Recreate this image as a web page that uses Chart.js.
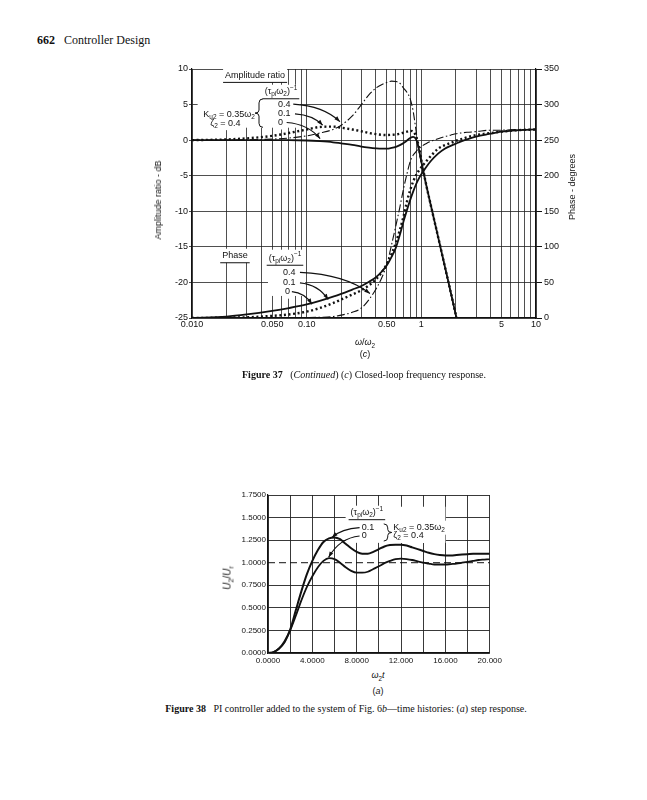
<!DOCTYPE html>
<html>
<head>
<meta charset="utf-8">
<title>Controller Design - Figures 37c and 38a</title>
<script src="https://cdn.jsdelivr.net/npm/chart.js"></script>
<style>
    body { margin: 0; background: #fff; }
    #page { position: relative; width: 647px; height: 800px; overflow: hidden; color: #111; font-family: 'Liberation Serif', serif; }
    .abs { position: absolute; white-space: nowrap; }
    canvas { position: absolute; }
    .axis { font-family: 'Liberation Sans', 'DejaVu Sans', sans-serif; font-size: 9px; }
    .rot { transform: translate(-50%, -50%) rotate(-90deg); }
    .ctr { transform: translate(-50%, -50%); }
    .cap { font-size: 10px; }
    sub { font-size: 70%; }
</style>
</head>
<body>
<div id="page">
    <div class="abs" style="left:37px; top:33px; font-size:12px;"><b>662</b>&nbsp;&nbsp;&nbsp;Controller Design</div>

    <canvas id="freqChart" width="470" height="292" style="left:130px; top:58px;"></canvas>
    <div class="abs axis rot" style="left:158px; top:200px;">Amplitude ratio - dB</div>
    <div class="abs axis rot" style="left:572px; top:187px;">Phase - degrees</div>
    <div class="abs axis ctr" style="left:365px; top:343px;"><i>ω</i>/<i>ω</i><sub>2</sub></div>
    <div class="abs axis ctr" style="left:365px; top:354px;">(<i>c</i>)</div>
    <div class="abs cap ctr" style="left:364px; top:374px;"><b>Figure 37</b>&nbsp;&nbsp;&nbsp;(<i>Continued</i>) (<i>c</i>) Closed-loop frequency response.</div>

    <canvas id="stepChart" width="295" height="186" style="left:210px; top:484px;"></canvas>
    <div class="abs axis rot" style="left:228px; top:578px; font-size:10px;"><i>U</i><sub>2</sub>/<i>U</i><sub>r</sub></div>
    <div class="abs axis ctr" style="left:378px; top:676px;"><i>ω</i><sub>2</sub><i>t</i></div>
    <div class="abs axis ctr" style="left:378px; top:691px;">(<i>a</i>)</div>
    <div class="abs cap ctr" style="left:346px; top:708px;"><b>Figure 38</b>&nbsp;&nbsp;&nbsp;PI controller added to the system of Fig. 6<i>b</i>—time histories: (<i>a</i>) step response.</div>
</div>

<script>
    // ---- Figure 37(c): closed-loop frequency response ----
    const freq = [0.01, 0.02, 0.03, 0.05, 0.07, 0.1, 0.13, 0.17, 0.2, 0.25,
                  0.3, 0.35, 0.4, 0.45, 0.5, 0.55, 0.6, 0.65, 0.7, 0.75,
                  0.8, 0.85, 0.9, 0.95, 1.0, 1.1, 1.2, 1.4, 1.6, 1.8,
                  2.0, 2.2, 2.5, 3, 4, 5, 7, 10];

    // amplitude ratio, dB, for (tau_pi w2)^-1 = 0, 0.1, 0.4
    const ampZero = [0, 0, 0, 0, 0, -0.05, -0.15, -0.3, -0.45, -0.65,
                     -0.9, -1.05, -1.15, -1.2, -1.2, -1.1, -0.95, -0.7, -0.4, -0.05,
                     0.3, 0.45, 0.1, -1.2, -3.0, -6.2, -8.9, -13.6, -17.7, -21.3,
                     -24.6, -27.6, null, null, null, null, null, null];
    const ampTenth = [0, 0.1, 0.25, 0.6, 1.0, 1.5, 1.85, 1.9, 1.75, 1.5,
                      1.25, 1.0, 0.85, 0.75, 0.72, 0.75, 0.8, 0.9, 1.05, 1.2,
                      1.3, 1.2, 0.5, -0.9, -2.8, -6.2, -8.9, -13.6, -17.7, -21.3,
                      -24.6, -27.6, null, null, null, null, null, null];
    const ampFour = [0, 0.02, 0.05, 0.15, 0.3, 0.6, 1.0, 1.5, 2.1, 3.4,
                     5.0, 6.4, 7.3, 7.8, 8.1, 8.3, 8.25, 8.0, 7.3, 6.7,
                     5.8, 4.0, 1.3, -1.3, -3.2, -6.2, -8.9, -13.6, -17.7, -21.3,
                     -24.6, -27.6, null, null, null, null, null, null];

    // phase, degrees
    const phaseZero = [0, 2, 5, 10, 14, 19, 24, 30, 34, 40,
                       45, 51, 57, 65, 74, 86, 99, 117, 136, 152,
                       166, 178, 188, 196, 202, 212, 220, 231, 238, 242,
                       245, 248, 251, 255, 259, 262, 264, 265];
    const phaseTenth = [0, 0.5, 1, 3, 5, 9, 14, 21, 26, 33,
                        39, 46, 54, 64, 76, 90, 106, 124, 143, 164,
                        180, 192, 201, 207, 212, 220, 227, 238, 243, 246,
                        249, 251, 254, 257, 260, 262, 264, 265];
    const phaseFour = [0, 0, 0, 0, 0, 0.5, 1, 2, 4, 8,
                       14, 26, 40, 56, 75, 103, 130, 156, 182, 203,
                       220, 229, 234, 238, 241, 245, 248, 252, 255, 257,
                       259, 260, 261, 262, 264, 264, 265, 265];

    const freqGrid = [0.01, 0.02, 0.03, 0.04, 0.05, 0.06, 0.07, 0.08, 0.09,
                      0.1, 0.2, 0.3, 0.4, 0.5, 0.6, 0.7, 0.8, 0.9,
                      1, 2, 3, 4, 5, 6, 7, 8, 9, 10];
    const freqLabelAt = [0.01, 0.05, 0.1, 0.5, 1, 5, 10];
    const freqLabels = ['0.010', '0.050', '0.10', '0.50', '1', '5', '10'];

    // ---- Figure 38(a): step response ----
    const time = [0, 0.5, 1, 1.5, 2, 2.5, 3, 3.5, 4, 4.5,
                  5, 5.5, 6, 6.5, 7, 7.5, 8, 8.5, 9, 9.5,
                  10, 10.5, 11, 11.5, 12, 12.5, 13, 13.5, 14, 14.5,
                  15, 15.5, 16, 16.5, 17, 17.5, 18, 18.5, 19, 19.5, 20];
    const stepTenth = [0, 0.01, 0.05, 0.13, 0.26, 0.47, 0.68, 0.87, 1.02, 1.14,
                       1.23, 1.27, 1.28, 1.26, 1.21, 1.16, 1.12, 1.10, 1.10, 1.12,
                       1.15, 1.18, 1.195, 1.20, 1.20, 1.19, 1.17, 1.15, 1.13, 1.11,
                       1.095, 1.085, 1.08, 1.08, 1.085, 1.09, 1.095, 1.10, 1.10, 1.10, 1.10];
    const stepZero = [0, 0.01, 0.05, 0.12, 0.25, 0.41, 0.58, 0.73, 0.85, 0.95,
                      1.02, 1.05, 1.04, 1.00, 0.95, 0.91, 0.89, 0.89, 0.90, 0.93,
                      0.96, 0.995, 1.02, 1.04, 1.045, 1.04, 1.03, 1.015, 1.0, 0.99,
                      0.98, 0.98, 0.98, 0.985, 0.99, 1.0, 1.01, 1.02, 1.03, 1.035, 1.04];
    const stepRef = [1, 1];
    const stepRefTime = [0, 20];

    const timeTicks = [0, 4, 8, 12, 16, 20];
    const timeTickLabels = ['0.0000', '4.0000', '8.0000', '12.000', '16.000', '20.000'];
    const respTickLabels = ['0.0000', '0.2500', '0.5000', '0.7500', '1.0000', '1.2500', '1.5000', '1.7500'];

    Chart.defaults.font.family = "'Liberation Sans', 'DejaVu Sans', sans-serif";
    Chart.defaults.color = '#111';

    const INK = '#111';
    const FAMILY = "'Liberation Sans', 'DejaVu Sans', sans-serif";
    const SOLID = { borderColor: INK, borderWidth: 1.8 };
    const DOTTED = { borderColor: INK, borderWidth: 2.4, borderDash: [2, 2.6], borderCapStyle: 'butt' };
    const DASHDOT = { borderColor: INK, borderWidth: 1.1, borderDash: [8, 2.5, 1.5, 2.5] };

    function pts(xs, ys) {
        return xs.map((x, i) => ({ x: x, y: ys[i] }));
    }

    function line(data, style, axis) {
        return Object.assign({
            data: data, yAxisID: axis || 'y', pointRadius: 0,
            cubicInterpolationMode: 'monotone', fill: false
        }, style);
    }

    function at(chart, x, y) {
        return { x: chart.scales.x.getPixelForValue(x), y: chart.scales.y.getPixelForValue(y) };
    }

    // "_{..}" = subscript, "^{..}" = superscript
    function parseRich(str) {
        const out = [];
        const re = /([_^])\{([^}]*)\}|([^_^]+)/g;
        let m;
        while ((m = re.exec(str))) {
            if (m[3]) out.push({ t: m[3], k: 0 });
            else out.push({ t: m[2], k: m[1] === '_' ? -1 : 1 });
        }
        return out;
    }

    function richWidth(ctx, segs, size) {
        let w = 0;
        segs.forEach(s => {
            ctx.font = (s.k ? size * 0.72 : size) + 'px ' + FAMILY;
            w += ctx.measureText(s.t).width;
        });
        return w;
    }

    function richDraw(ctx, segs, x, y, size) {
        ctx.textAlign = 'left';
        segs.forEach(s => {
            ctx.font = (s.k ? size * 0.72 : size) + 'px ' + FAMILY;
            const dy = s.k < 0 ? size * 0.3 : s.k > 0 ? -size * 0.4 : 0;
            ctx.fillText(s.t, x, y + dy);
            x += ctx.measureText(s.t).width;
        });
    }

    function arrow(ctx, a, b) {
        const c = { x: a.x + (b.x - a.x) * 0.65, y: a.y + (b.y - a.y) * 0.1 };
        ctx.beginPath();
        ctx.moveTo(a.x, a.y);
        ctx.quadraticCurveTo(c.x, c.y, b.x, b.y);
        ctx.stroke();
        const ang = Math.atan2(b.y - c.y, b.x - c.x);
        ctx.beginPath();
        ctx.moveTo(b.x, b.y);
        ctx.lineTo(b.x - 6 * Math.cos(ang - 0.35), b.y - 6 * Math.sin(ang - 0.35));
        ctx.lineTo(b.x - 6 * Math.cos(ang + 0.35), b.y - 6 * Math.sin(ang + 0.35));
        ctx.closePath();
        ctx.fill();
    }

    function brace(ctx, x, y0, y1, dir) {
        const m = (y0 + y1) / 2, w = 4 * dir;
        ctx.beginPath();
        ctx.moveTo(x + w, y0);
        ctx.quadraticCurveTo(x, y0, x, y0 + 4);
        ctx.lineTo(x, m - 3);
        ctx.quadraticCurveTo(x, m, x - w, m);
        ctx.quadraticCurveTo(x, m, x, m + 3);
        ctx.lineTo(x, y1 - 4);
        ctx.quadraticCurveTo(x, y1, x + w, y1);
        ctx.stroke();
    }

    // labels, braces and arrows placed in data coordinates
    function makeNotes(spec) {
        function place(ctx, t, p) {
            const segs = parseRich(t.text);
            const w = richWidth(ctx, segs, spec.size);
            const x0 = t.align === 'left' ? p.x : t.align === 'right' ? p.x - w : p.x - w / 2;
            return { segs: segs, w: w, x0: x0 };
        }
        return {
            id: 'notes',
            beforeDatasetsDraw(chart) {
                const ctx = chart.ctx;
                ctx.save();
                ctx.fillStyle = '#fff';
                spec.boxes.forEach(b => {
                    const p = at(chart, b[0], b[1]), q = at(chart, b[2], b[3]);
                    ctx.fillRect(p.x, p.y, q.x - p.x, q.y - p.y);
                });
                spec.texts.forEach(t => {
                    const p = at(chart, t.x, t.y);
                    const r = place(ctx, t, p);
                    ctx.fillRect(r.x0 - 2, p.y - 7, r.w + 4, 14);
                });
                ctx.restore();
            },
            afterDatasetsDraw(chart) {
                const ctx = chart.ctx;
                ctx.save();
                ctx.fillStyle = INK;
                ctx.strokeStyle = INK;
                ctx.lineWidth = 1;
                ctx.textBaseline = 'middle';
                spec.texts.forEach(t => {
                    const p = at(chart, t.x, t.y);
                    const r = place(ctx, t, p);
                    richDraw(ctx, r.segs, r.x0, p.y, spec.size);
                    if (t.underline) {
                        ctx.beginPath();
                        ctx.moveTo(r.x0 - 2, p.y + 7);
                        ctx.lineTo(r.x0 + r.w + 2, p.y + 7);
                        ctx.stroke();
                    }
                });
                spec.braces.forEach(b => {
                    const p = at(chart, b.x, b.y0), q = at(chart, b.x, b.y1);
                    brace(ctx, p.x, p.y, q.y, b.dir);
                });
                ctx.lineWidth = 1.2;
                spec.arrows.forEach(a => arrow(ctx, at(chart, a[0], a[1]), at(chart, a[2], a[3])));
                ctx.restore();
            }
        };
    }

    const freqNotes = {
        size: 9,
        boxes: [[0.0112, 9.7, 0.0408, 1.75], [0.0408, 7.6, 0.0874, 1.75], [0.046, -15.4, 0.097, -21.9]],
        texts: [
            { text: 'Amplitude ratio', x: 0.0355, y: 9.1, align: 'center', underline: true },
            { text: '(τ_{pi}ω_{2})^{−1}', x: 0.0597, y: 6.8, align: 'center', underline: true },
            { text: '0.4', x: 0.0562, y: 5.07, align: 'left' },
            { text: '0.1', x: 0.0562, y: 3.7, align: 'left' },
            { text: '0', x: 0.0562, y: 2.48, align: 'left' },
            { text: 'K_{u2} = 0.35ω_{2}', x: 0.0354, y: 3.66, align: 'right' },
            { text: 'ζ_{2} = 0.4', x: 0.0144, y: 2.39, align: 'left' },
            { text: 'Phase', x: 0.0237, y: -16.25, align: 'center', underline: true },
            { text: '(τ_{pi}ω_{2})^{−1}', x: 0.0647, y: -16.6, align: 'center', underline: true },
            { text: '0.4', x: 0.0621, y: -18.6, align: 'left' },
            { text: '0.1', x: 0.0621, y: -20.06, align: 'left' },
            { text: '0', x: 0.0647, y: -21.3, align: 'left' }
        ],
        braces: [{ x: 0.0384, y0: 5.8, y1: 1.8, dir: 1 }],
        arrows: [
            [0.0764, 5.07, 0.195, 2.6],
            [0.0791, 3.70, 0.138, 2.1],
            [0.0669, 2.48, 0.131, 0.2],
            [0.0874, -18.6, 0.356, -21.55],
            [0.0874, -20.06, 0.154, -22.4],
            [0.0743, -21.3, 0.111, -23.06]
        ]
    };

    const stepNotes = {
        size: 9,
        boxes: [[7.0, 1.62, 16.0, 1.22]],
        texts: [
            { text: '(τ_{pi}ω_{2})^{−1}', x: 8.92, y: 1.554, align: 'center', underline: true },
            { text: '0.1', x: 8.45, y: 1.388, align: 'left' },
            { text: '0', x: 8.45, y: 1.296, align: 'left' },
            { text: 'K_{u2} = 0.35ω_{2}', x: 11.3, y: 1.388, align: 'left' },
            { text: 'ζ_{2} = 0.4', x: 11.3, y: 1.296, align: 'left' }
        ],
        braces: [{ x: 10.8, y0: 1.43, y1: 1.24, dir: -1 }],
        arrows: [
            [8.26, 1.388, 5.77, 1.28],
            [8.26, 1.296, 5.47, 1.06]
        ]
    };

    new Chart(document.getElementById('freqChart'), {
        type: 'line',
        data: {
            datasets: [
                line(pts(freq, ampZero), SOLID),
                line(pts(freq, ampTenth), DOTTED),
                line(pts(freq, ampFour), DASHDOT),
                line(pts(freq, phaseZero), SOLID, 'y1'),
                line(pts(freq, phaseTenth), DOTTED, 'y1'),
                line(pts(freq, phaseFour), DASHDOT, 'y1')
            ]
        },
        options: {
            responsive: false,
            animation: false,
            devicePixelRatio: 1,
            layout: { padding: { top: 11, right: 0, bottom: 0, left: 0 } },
            plugins: { legend: { display: false }, tooltip: { enabled: false } },
            scales: {
                x: {
                    type: 'logarithmic', min: 0.01, max: 10,
                    afterBuildTicks: s => { s.ticks = freqGrid.map(v => ({ value: v })); },
                    afterFit: s => { s.height = 32; },
                    grid: { color: '#222', lineWidth: 0.8, drawTicks: false },
                    border: { color: INK, width: 1.2 },
                    ticks: {
                        autoSkip: false, maxRotation: 0, padding: 1,
                        font: { size: 9 },
                        callback: v => { const i = freqLabelAt.indexOf(v); return i < 0 ? '' : freqLabels[i]; }
                    }
                },
                y: {
                    position: 'left', min: -25, max: 10,
                    afterFit: s => { s.width = 62; },
                    grid: { color: '#222', lineWidth: 0.8, tickLength: 3 },
                    border: { color: INK, width: 1.2 },
                    ticks: { stepSize: 5, padding: 1, font: { size: 9 } }
                },
                y1: {
                    position: 'right', min: 0, max: 350,
                    afterFit: s => { s.width = 64; },
                    grid: { drawOnChartArea: false, color: INK, tickLength: 6 },
                    border: { color: INK, width: 1.2 },
                    ticks: { stepSize: 50, padding: 2, font: { size: 9 } }
                }
            }
        },
        plugins: [makeNotes(freqNotes)]
    });

    new Chart(document.getElementById('stepChart'), {
        type: 'line',
        data: {
            datasets: [
                line(pts(stepRefTime, stepRef), { borderColor: INK, borderWidth: 1, borderDash: [7, 4] }),
                line(pts(time, stepTenth), { borderColor: INK, borderWidth: 2 }),
                line(pts(time, stepZero), { borderColor: INK, borderWidth: 1.8 })
            ]
        },
        options: {
            responsive: false,
            animation: false,
            devicePixelRatio: 1,
            layout: { padding: { top: 11, right: 15, bottom: 0, left: 0 } },
            plugins: { legend: { display: false }, tooltip: { enabled: false } },
            scales: {
                x: {
                    type: 'linear', min: 0, max: 20,
                    afterFit: s => { s.height = 17; },
                    grid: { color: '#222', lineWidth: 0.9, drawTicks: false },
                    border: { color: INK, width: 1.2 },
                    ticks: {
                        stepSize: 2, autoSkip: false, maxRotation: 0, padding: 3,
                        font: { size: 8 },
                        callback: v => { const i = timeTicks.indexOf(v); return i < 0 ? '' : timeTickLabels[i]; }
                    }
                },
                y: {
                    min: 0, max: 1.75,
                    afterFit: s => { s.width = 58; },
                    grid: {
                        color: c => (c.tick && c.tick.value === 1 ? 'rgba(0,0,0,0)' : '#222'),
                        lineWidth: 0.9, drawTicks: false
                    },
                    border: { color: INK, width: 1.2 },
                    ticks: {
                        stepSize: 0.25, padding: 2, font: { size: 8 },
                        callback: (v, i) => respTickLabels[i]
                    }
                }
            }
        },
        plugins: [makeNotes(stepNotes)]
    });
</script>
</body>
</html>
